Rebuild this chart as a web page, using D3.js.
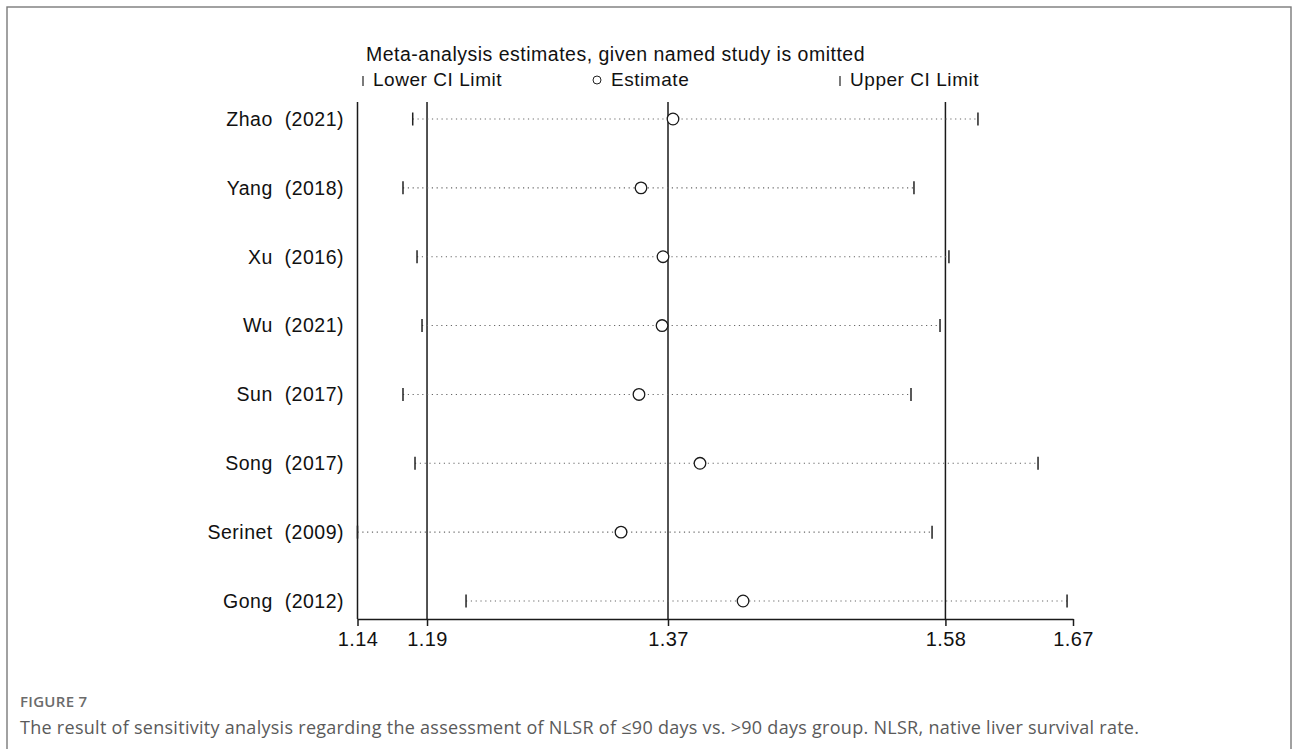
<!DOCTYPE html>
<html>
<head>
<meta charset="utf-8">
<script src="https://cdn.jsdelivr.net/npm/d3@7"></script>
<style>
  html, body { margin: 0; padding: 0; background: #fff; }
  svg { display: block; }
</style>
</head>
<body>
<svg id="chart" width="1292" height="749"></svg>
<script>
// Leave-one-out sensitivity analysis: pooled estimate and CI with each study omitted
const studies = ["Zhao  (2021)", "Yang  (2018)", "Xu  (2016)", "Wu  (2021)",
                 "Sun  (2017)", "Song  (2017)", "Serinet  (2009)", "Gong  (2012)"];
const lowerCI  = [1.1809, 1.1737, 1.1841, 1.1878, 1.1737, 1.1826, 1.1400, 1.2204];
const estimate = [1.3737, 1.3500, 1.3663, 1.3656, 1.3485, 1.3937, 1.3352, 1.4256];
const upperCI  = [1.5996, 1.5522, 1.5781, 1.5715, 1.5500, 1.6441, 1.5656, 1.6656];

// Overall pooled result (lower CI, estimate, upper CI) drawn as reference lines
const overall = [1.1915, 1.3700, 1.5755];
// Axis end points
const axisRange = [1.14, 1.67];
const tickValues = [axisRange[0], overall[0], overall[1], overall[2], axisRange[1]];

const titleText = "Meta-analysis estimates, given named study is omitted";
const legendLabels = ["Lower CI Limit", "Estimate", "Upper CI Limit"];
const figureLabel = "FIGURE 7";
const captionText = "The result of sensitivity analysis regarding the assessment of NLSR of \u226490 days vs. >90 days group. NLSR, native liver survival rate.";

const svg = d3.select("#chart");
const FONT = "'Liberation Sans', Arial, sans-serif";

// Outer frame
svg.append("rect")
  .attr("x", 7).attr("y", 7)
  .attr("width", 1284).attr("height", 760)
  .attr("fill", "none").attr("stroke", "#7a7a7a").attr("stroke-width", 1.4);

const plotTop = 102, axisY = 619;
const x = d3.scaleLinear().domain(axisRange).range([357.5, 1073]);
const y = d3.scalePoint().domain(studies).range([119, 601]);

const rows = studies.map((s, i) => ({ s, lo: lowerCI[i], est: estimate[i], hi: upperCI[i] }));

// Title and legend
svg.append("text")
  .attr("x", 366).attr("y", 61)
  .attr("font-family", FONT).attr("font-size", 19.5)
  .attr("letter-spacing", 0.5)
  .attr("fill", "#111")
  .text(titleText);

const legendY = 86;
function legendText(xPos, label) {
  svg.append("text").attr("x", xPos).attr("y", legendY)
    .attr("font-family", FONT).attr("font-size", 19).attr("letter-spacing", 0.55)
    .attr("fill", "#111").text(label);
}
svg.append("line").attr("x1", 363).attr("x2", 363).attr("y1", legendY - 10).attr("y2", legendY)
  .attr("stroke", "#222").attr("stroke-width", 1.2);
legendText(373, legendLabels[0]);
svg.append("circle").attr("cx", 597).attr("cy", legendY - 6).attr("r", 4)
  .attr("fill", "none").attr("stroke", "#222").attr("stroke-width", 1);
legendText(611, legendLabels[1]);
svg.append("line").attr("x1", 840).attr("x2", 840).attr("y1", legendY - 10).attr("y2", legendY)
  .attr("stroke", "#222").attr("stroke-width", 1.2);
legendText(850, legendLabels[2]);

// Vertical reference lines: left axis edge plus overall CI and estimate
svg.append("g").selectAll("line")
  .data([axisRange[0]].concat(overall))
  .join("line")
  .attr("x1", d => x(d)).attr("x2", d => x(d))
  .attr("y1", plotTop).attr("y2", axisY)
  .attr("stroke", "#1a1a1a").attr("stroke-width", 1.5);

// Bottom axis
const axis = d3.axisBottom(x)
  .tickValues(tickValues)
  .tickFormat(d3.format(".2f"))
  .tickSizeInner(7).tickSizeOuter(0).tickPadding(6);
const gAxis = svg.append("g").attr("transform", `translate(0,${axisY})`).call(axis);
gAxis.select(".domain").attr("stroke", "#1a1a1a").attr("stroke-width", 1.5);
gAxis.selectAll(".tick line").attr("stroke", "#1a1a1a").attr("stroke-width", 1.5);
gAxis.selectAll(".tick text")
  .attr("font-family", FONT).attr("font-size", 20).attr("letter-spacing", 0.4)
  .attr("fill", "#111");

// Study rows
const g = svg.append("g");
g.selectAll("line.ci")
  .data(rows).join("line").attr("class", "ci")
  .attr("x1", d => x(d.lo)).attr("x2", d => x(d.hi))
  .attr("y1", d => y(d.s)).attr("y2", d => y(d.s))
  .attr("stroke", "#666").attr("stroke-width", 1.1)
  .attr("stroke-dasharray", "1.2 3.6");

g.selectAll("line.lo")
  .data(rows).join("line").attr("class", "lo")
  .attr("x1", d => x(d.lo)).attr("x2", d => x(d.lo))
  .attr("y1", d => y(d.s) - 6.5).attr("y2", d => y(d.s) + 6.5)
  .attr("stroke", "#222").attr("stroke-width", 1.5);

g.selectAll("line.hi")
  .data(rows).join("line").attr("class", "hi")
  .attr("x1", d => x(d.hi)).attr("x2", d => x(d.hi))
  .attr("y1", d => y(d.s) - 6.5).attr("y2", d => y(d.s) + 6.5)
  .attr("stroke", "#222").attr("stroke-width", 1.5);

g.selectAll("circle.est")
  .data(rows).join("circle").attr("class", "est")
  .attr("cx", d => x(d.est)).attr("cy", d => y(d.s)).attr("r", 5.8)
  .attr("fill", "#fff").attr("stroke", "#1a1a1a").attr("stroke-width", 1.3);

// Study labels
g.selectAll("text.lab")
  .data(rows).join("text").attr("class", "lab")
  .attr("x", 344).attr("y", d => y(d.s))
  .attr("dy", "0.35em")
  .attr("text-anchor", "end")
  .attr("font-family", FONT).attr("font-size", 19.5).attr("letter-spacing", 0.5)
  .attr("fill", "#111")
  .style("white-space", "pre")
  .text(d => d.s);

// Caption
svg.append("text")
  .attr("x", 20).attr("y", 707)
  .attr("font-family", "'Open Sans', sans-serif").attr("font-size", 15)
  .attr("letter-spacing", 0.3)
  .attr("font-weight", 600).attr("fill", "#6b6b6b")
  .text(figureLabel);
svg.append("text")
  .attr("x", 20).attr("y", 734)
  .attr("font-family", "'Open Sans', sans-serif").attr("font-size", 18)
  .attr("letter-spacing", 0.28)
  .attr("fill", "#5a5a5a")
  .text(captionText);
</script>
</body>
</html>
